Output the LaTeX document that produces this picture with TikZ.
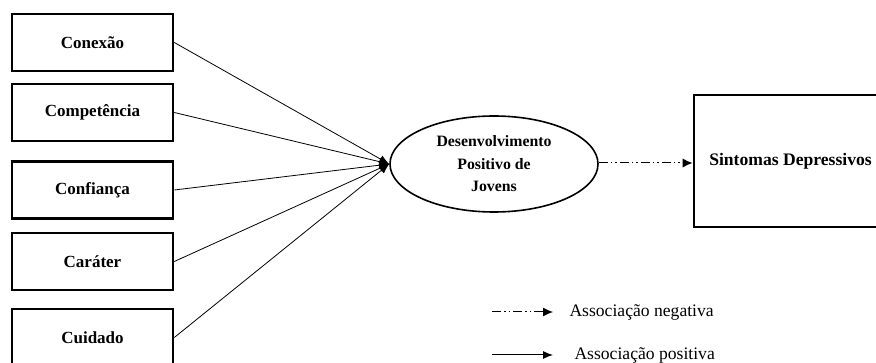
\documentclass[tikz,border=0pt]{standalone}
\usepackage{fontspec}
\setmainfont{Liberation Serif}
\usetikzlibrary{arrows.meta,shapes.geometric}

\begin{document}
\begin{tikzpicture}[x=1pt,y=-1pt,
   dimbox/.style={draw,line width=2.6pt,minimum width=161pt,minimum height=57pt,
     font=\fontsize{17}{20}\selectfont\bfseries},
   dpj/.style={draw,ellipse,line width=1.6pt,minimum width=208pt,minimum height=96pt,
     align=center,font=\fontsize{15.8}{22.5}\selectfont\bfseries},
   posarrow/.style={line width=0.8pt,-{Latex[length=10pt,width=8pt]}},
   negarrow/.style={line width=1pt,dash pattern=on 9pt off 3pt on 1.5pt off 3pt on 1.5pt off 3pt,
     -{Latex[length=10pt,width=9pt]}},
   legtext/.style={anchor=west,font=\fontsize{17.6}{20}\selectfont}]
\useasboundingbox (0,0) rectangle (876,363);
\clip (0,0) rectangle (876,363);
\fill[white] (0,0) rectangle (876,363);
% dimensoes
\node[dimbox] (conexao) at (92.5,42.5) {Conexão};
\node[dimbox] (competencia) at (92.5,112.5) {Competência};
\node[dimbox] (confianca) at (92.5,190) {Confiança};
\node[dimbox] (carater) at (92.5,261.5) {Caráter};
\node[dimbox] (cuidado) at (92.5,337.5) {Cuidado};
% constructo e desfecho
\node[dpj] (dpj) at (494,164) {Desenvolvimento\\Positivo de\\Jovens};
\node[dimbox,line width=2.8pt,minimum width=193pt,minimum height=132pt,
  font=\fontsize{17.6}{20}\selectfont\bfseries] (sintomas) at (790.5,161) {Sintomas Depressivos};
\foreach \d in {conexao,competencia,confianca,carater,cuidado}
  \draw[posarrow] (\d.east) -- (dpj.west);
\draw[negarrow] (dpj.east |- 0,163) -- (sintomas.west |- 0,163);
% legenda
\coordinate (negA) at (492,312);
\coordinate (negB) at (553,312);
\coordinate (posA) at (492,355);
\coordinate (posB) at (553,355);
\draw[negarrow] (negA) -- (negB);
\draw[posarrow,line width=1pt] (posA) -- (posB);
\node[legtext] (negtxt) at (566,312) {Associação negativa};
\node[legtext] (postxt) at (571,355) {Associação positiva};
\end{tikzpicture}
\end{document}
